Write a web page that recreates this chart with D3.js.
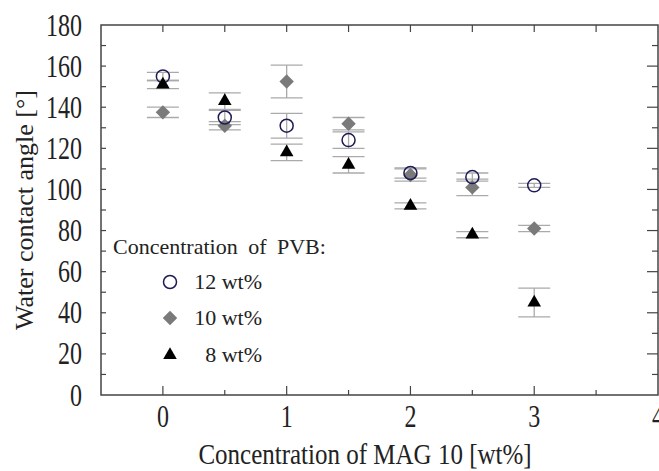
<!DOCTYPE html>
<html>
<head>
<meta charset="utf-8">
<script src="https://cdn.jsdelivr.net/npm/d3@7"></script>
<style>
  body { margin: 0; background: #fff; }
  svg text { font-family: 'Liberation Serif', 'DejaVu Serif', serif; }
</style>
</head>
<body>
<svg width="659" height="471"></svg>
<script>
const mag10 = [0, 0.5, 1, 1.5, 2, 2.5, 3];
const pvb12 = [155, 135, 131, 124, 108, 106, 102];
const pvb12Err = [2, 3.5, 6, 4, 2.5, 2, 1];
const pvb10 = [137.5, 131, 152.5, 132, 107, 101, 81];
const pvb10Err = [2.5, 2, 8, 3, 3, 4, 1.5];
const pvb8 = [151, 143, 118, 112, 92, 78, 45];
const pvb8Err = [2, 4, 4, 4, 1.5, 1.5, 7];
const xTicks = [0, 1, 2, 3, 4];
const yTicks = [0, 20, 40, 60, 80, 100, 120, 140, 160, 180];
const legendLabels = ['12 wt%', '10 wt%', '8 wt%'];

const svg = d3.select('svg');
const m = { top: 25, right: 1, bottom: 76, left: 101 };
const w = 659 - m.left - m.right;
const h = 471 - m.top - m.bottom;

const x = d3.scaleLinear().domain([-0.5, 4]).range([0, w]);
const y = d3.scaleLinear().domain([0, 180]).range([h, 0]);

const g = svg.append('g').attr('transform', `translate(${m.left},${m.top})`);

const axisCol = '#444';
const txtCol = '#222';

// frame
g.append('rect').attr('width', w).attr('height', h)
  .attr('fill', 'none').attr('stroke', axisCol).attr('stroke-width', 1.5);

// ticks (inward)
const halfTicks = d3.range(0, 4, 0.5);
const tenTicks = d3.range(10, 180, 10);
g.selectAll('.tt').data(halfTicks).enter().append('line')
  .attr('x1', d => x(d)).attr('x2', d => x(d)).attr('y1', 0).attr('y2', 7)
  .attr('stroke', axisCol).attr('stroke-width', 1.2);
g.selectAll('.bt').data(halfTicks).enter().append('line')
  .attr('x1', d => x(d)).attr('x2', d => x(d)).attr('y1', h)
  .attr('y2', d => h - (d % 1 === 0 ? 9 : 5))
  .attr('stroke', axisCol).attr('stroke-width', 1.2);
g.selectAll('.lt').data(tenTicks).enter().append('line')
  .attr('x1', 0).attr('x2', 5).attr('y1', d => y(d)).attr('y2', d => y(d))
  .attr('stroke', axisCol).attr('stroke-width', 1.2);
g.selectAll('.rt').data(tenTicks).enter().append('line')
  .attr('x1', w).attr('x2', d => w - (d % 20 === 0 ? 11 : 6))
  .attr('y1', d => y(d)).attr('y2', d => y(d))
  .attr('stroke', axisCol).attr('stroke-width', 1.2);

// tick labels (the original lettering is a bit tall, hence the y-stretch)
g.selectAll('.xl').data(xTicks).enter().append('text')
  .attr('transform', d => `translate(${x(d)},${h + 32}) scale(1,1.3)`)
  .attr('text-anchor', 'middle').attr('font-size', 24).attr('fill', txtCol)
  .text(d => d);
// y labels: right edge 19px left of the axis
g.selectAll('.yl').data(yTicks).enter().append('text')
  .attr('font-size', 24).attr('fill', txtCol)
  .text(d => d)
  .attr('transform', function (d) {
    const len = this.getComputedTextLength();
    return `translate(${-19 - len},${y(d) + 10.5}) scale(1,1.3)`;
  });

// axis titles
svg.append('text').attr('transform', 'translate(365,464) scale(1,1.15)')
  .attr('text-anchor', 'middle').attr('font-size', 25).attr('fill', txtCol)
  .text('Concentration of MAG 10 [wt%]');
svg.append('text')
  .attr('transform', 'translate(33,210) rotate(-90)')
  .attr('text-anchor', 'middle').attr('font-size', 26).attr('fill', txtCol)
  .text('Water contact angle [°]');

const series = [
  { vals: pvb12, err: pvb12Err },
  { vals: pvb10, err: pvb10Err },
  { vals: pvb8, err: pvb8Err }
];

// error bars
const errCol = '#aaa';
series.forEach(s => {
  const pts = mag10.map((d, i) => ({ x: d, v: s.vals[i], e: s.err[i] }));
  const eg = g.append('g').attr('stroke', errCol).attr('stroke-width', 1.3);
  eg.selectAll('.v').data(pts).enter().append('line')
    .attr('x1', d => x(d.x)).attr('x2', d => x(d.x))
    .attr('y1', d => y(d.v - d.e)).attr('y2', d => y(d.v + d.e));
  eg.selectAll('.c1').data(pts).enter().append('line')
    .attr('x1', d => x(d.x) - 16).attr('x2', d => x(d.x) + 16)
    .attr('y1', d => y(d.v + d.e)).attr('y2', d => y(d.v + d.e));
  eg.selectAll('.c2').data(pts).enter().append('line')
    .attr('x1', d => x(d.x) - 16).attr('x2', d => x(d.x) + 16)
    .attr('y1', d => y(d.v - d.e)).attr('y2', d => y(d.v - d.e));
});

const diamond = d3.symbol().type(d3.symbolSquare).size(104)();
const tri = d3.symbol().type(d3.symbolTriangle).size(80)();

// 10 wt% diamonds
g.selectAll('.dia').data(pvb10).enter().append('path')
  .attr('d', diamond)
  .attr('transform', (d, i) => `translate(${x(mag10[i])},${y(d)}) rotate(45)`)
  .attr('fill', '#7a7a7a');
// 12 wt% circles
g.selectAll('.cir').data(pvb12).enter().append('circle')
  .attr('cx', (d, i) => x(mag10[i])).attr('cy', d => y(d)).attr('r', 6.5)
  .attr('fill', 'none').attr('stroke', '#1c1c55').attr('stroke-width', 1.5);
// 8 wt% triangles
g.selectAll('.tri').data(pvb8).enter().append('path')
  .attr('d', tri)
  .attr('transform', (d, i) => `translate(${x(mag10[i])},${y(d)})`)
  .attr('fill', '#000');

// legend
const lg = svg.append('g');
lg.append('text').attr('x', 113).attr('y', 254).attr('font-size', 22)
  .attr('word-spacing', 5).attr('fill', txtCol)
  .text('Concentration of PVB:');
const rows = [282, 318, 355];
lg.append('circle').attr('cx', 170).attr('cy', rows[0]).attr('r', 6.5)
  .attr('fill', 'none').attr('stroke', '#1c1c55').attr('stroke-width', 1.5);
lg.append('path').attr('d', diamond)
  .attr('transform', `translate(170,${rows[1]}) rotate(45)`).attr('fill', '#7a7a7a');
lg.append('path').attr('d', tri)
  .attr('transform', `translate(170,${rows[2]})`).attr('fill', '#000');
lg.selectAll('.lt').data(legendLabels).enter().append('text')
  .attr('x', 262).attr('y', (d, i) => rows[i] + 7)
  .attr('text-anchor', 'end').attr('font-size', 22).attr('fill', txtCol)
  .text(d => d);
</script>
</body>
</html>
